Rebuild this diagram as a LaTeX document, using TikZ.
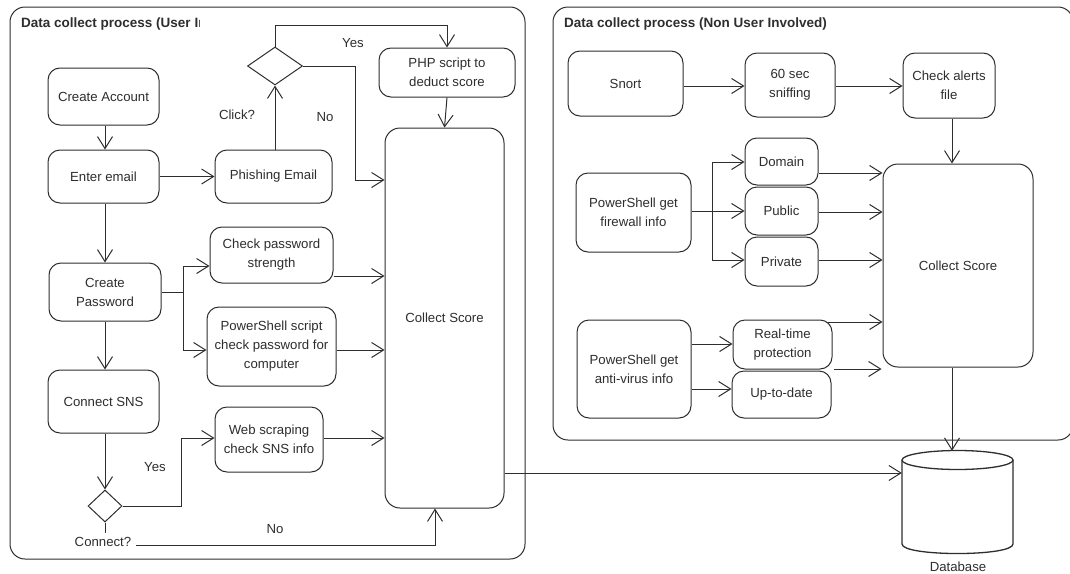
\documentclass[tikz,border=0pt]{standalone}
\usepackage{fontspec}
\setmainfont{Liberation Sans}
\usetikzlibrary{arrows.meta,shapes.geometric}
\definecolor{ink}{HTML}{2E2E2E}
\begin{document}
\begin{tikzpicture}[x=1pt,y=-1pt,
  every node/.style={font=\fontsize{13.2}{19}\selectfont, text=ink},
  box/.style={draw=ink, line width=1pt, rounded corners=12pt, fill=white, align=center, inner sep=0pt},
  lane/.style={draw=ink, line width=1pt, rounded corners=15pt, inner sep=0pt},
  dec/.style={diamond, draw=ink, line width=1pt, fill=white, inner sep=0pt},
  lbl/.style={inner sep=1pt},
  title/.style={anchor=west, inner sep=0pt, font=\bfseries\fontsize{13.5}{19}\selectfont},
  wire/.style={draw=ink, line width=1pt},
  arr/.style={wire, -{Straight Barb[length=12pt,width=15pt]}}]

\useasboundingbox (0,0) rectangle (1070,573);

% ---------- swimlane frames ----------
\node[lane, minimum width=515pt, minimum height=552pt] (laneU) at (267.5,283) {};
\node[lane, minimum width=520pt, minimum height=433pt] (laneN) at (813,223.5) {};

\begin{scope}
  \clip (12,9) rectangle (199,40);
  \node[title] (titleU) at (21,24) {Data collect process (User Involved)};
\end{scope}
\node[title] (titleN) at (564,24) {Data collect process (Non User Involved)};

% ---------- user involved ----------
\node[box, minimum width=111pt, minimum height=57pt] (acct) at (103.5,96.5) {Create Account};
\node[box, minimum width=111pt, minimum height=53pt] (email) at (103.5,176.5) {Enter email};
\node[box, minimum width=112pt, minimum height=58pt] (pwd) at (105,292) {Create\\Password};
\node[box, minimum width=111pt, minimum height=63pt] (sns) at (103.5,401.5) {Connect SNS};
\node[box, minimum width=117pt, minimum height=53pt] (phish) at (273.5,176.5) {Phishing Email};
\node[box, minimum width=123pt, minimum height=56pt] (chk) at (271.5,255) {Check password\\strength};
\node[box, minimum width=129pt, minimum height=79pt] (pss) at (271.5,346.5) {PowerShell script\\check password for\\computer};
\node[box, minimum width=108pt, minimum height=65pt] (web) at (269,439.5) {Web scraping\\check SNS info};
\node[box, minimum width=136pt, minimum height=49pt] (php) at (447,72.5) {PHP script to\\deduct score};
\node[box, rounded corners=15pt, minimum width=119pt, minimum height=380pt] (colU) at (444.5,318) {Collect Score};

\node[dec, minimum width=55pt, minimum height=38pt, aspect=1.45] (dclick) at (275,66) {};
\node[dec, minimum width=34pt, minimum height=32pt] (dconn) at (105,506) {};

\node[lbl] (lclick) at (237,115) {Click?};
\node[lbl] (lno1) at (325,117) {No};
\node[lbl] (lyes1) at (353,43) {Yes};
\node[lbl] (lconn) at (103,542) {Connect?};
\node[lbl] (lyes2) at (155,467) {Yes};
\node[lbl] (lno2) at (275,529) {No};

\coordinate (pj) at (183,292);
\coordinate (yj) at (181,438);

\draw[arr] (acct.south -| 105,0) -- (email.north -| 105,0);
\draw[arr] (email.east) -- (phish.west);
\draw[arr] (phish.north -| dclick.south) -- (dclick.south);
\draw[arr] (dclick.north) -- ++(0,-21) -| (php.north);
\draw[arr] (dclick.east) -| (355,180) -- (colU.west |- 0,180);
\draw[arr] (php.south) -- (colU.north);
\draw[arr] (email.south -| 105,0) -- (pwd.north);
\draw[wire] (pwd.east) -- (pj);
\draw[wire] (pj |- 0,266) -- (pj |- 0,350);
\draw[arr] (pj) |- (chk.west |- 0,266);
\draw[arr] (pj) |- (pss.west |- 0,350);
\draw[arr] (chk.east |- 0,276) -- (colU.west |- 0,276);
\draw[arr] (pss.east |- 0,350) -- (colU.west |- 0,350);
\draw[arr] (pwd.south) -- (sns.north -| pwd.south);
\draw[arr] (sns.south -| dconn.north) -- (dconn.north);
\draw[wire] (dconn.south) -- ++(0,10);
\draw[arr] (dconn.east) -| (yj) -- (web.west |- yj);
\draw[arr] (web.east |- yj) -- (colU.west |- yj);
\draw[arr] (lconn.east |- 0,545) ++(4,0) -| (colU.south -| 435,0);

% ---------- non user involved ----------
\node[box, minimum width=115pt, minimum height=65pt] (snort) at (625.5,83.5) {Snort};
\node[box, minimum width=90pt, minimum height=64pt] (sniff) at (790,85) {60 sec\\sniffing};
\node[box, minimum width=92pt, minimum height=65pt] (alerts) at (949,85.5) {Check alerts\\file};
\node[box, rounded corners=15pt, minimum width=150pt, minimum height=203pt] (colN) at (958,265.5) {Collect Score};
\node[box, minimum width=115pt, minimum height=79pt] (fw) at (633.5,212.5) {PowerShell get\\firewall info};
\node[box, minimum width=73pt, minimum height=47pt] (dom) at (781.5,161.5) {Domain};
\node[box, minimum width=73pt, minimum height=48pt] (pub) at (781.5,211) {Public};
\node[box, minimum width=73pt, minimum height=49pt] (prv) at (781.5,261.5) {Private};
\node[box, minimum width=114pt, minimum height=98pt] (av) at (634,369) {PowerShell get\\anti-virus info};
\node[box, minimum width=99pt, minimum height=49pt] (rt) at (782.5,344.5) {Real-time\\protection};
\node[box, minimum width=99pt, minimum height=47pt] (utd) at (781.5,394.5) {Up-to-date};

\coordinate (fj) at (712,211);

\draw[arr] (snort.east |- 0,86) -- (sniff.west |- 0,86);
\draw[arr] (sniff.east |- 0,86) -- (alerts.west |- 0,86);
\draw[arr] (alerts.south -| 952,0) -- (colN.north -| 952,0);
\draw[wire] (fw.east |- fj) -- (fj);
\draw[wire] (fj |- 0,162) -- (fj |- 0,260);
\draw[arr] (fj |- 0,162) -- (dom.west |- 0,162);
\draw[arr] (fj) -- (pub.west |- fj);
\draw[arr] (fj |- 0,260) -- (prv.west |- 0,260);
\draw[arr] (dom.east |- 0,173) -- (colN.west |- 0,173);
\draw[arr] (pub.east |- 0,212) -- (colN.west |- 0,212);
\draw[arr] (prv.east |- 0,260) -- (colN.west |- 0,260);
\draw[arr] (av.east |- 0,344) -- (rt.west |- 0,344);
\draw[arr] (av.east |- 0,389) -- (utd.west |- 0,389);
\draw[arr] ([xshift=-5pt]rt.east |- 0,322) -- (colN.west |- 0,322);
\draw[arr] ([xshift=2pt]utd.east |- 0,369) -- ([xshift=-1pt]colN.west |- 0,369);

% ---------- database ----------
\node[inner sep=0pt, minimum width=111pt, minimum height=102pt] (db) at (957.5,502) {};
\fill[white] (902,460) -- (902,544) .. controls (902,556.7) and (1013,556.7) .. (1013,544) -- (1013,460) -- cycle;
\draw[wire, line width=1.3pt] (902,460) -- (902,544) .. controls (902,556.7) and (1013,556.7) .. (1013,544) -- (1013,460);
\draw[wire, line width=1.3pt, fill=white] (957.5,460) ellipse [x radius=55.5pt, y radius=9.5pt];
\node[lbl] (ldb) at (958,567) {Database};

\draw[arr] (colU.east |- 0,473) -- (db.west |- 0,473);
\draw[arr] (colN.south -| 952,0) -- (db.north -| 952,0);

\end{tikzpicture}
\end{document}
